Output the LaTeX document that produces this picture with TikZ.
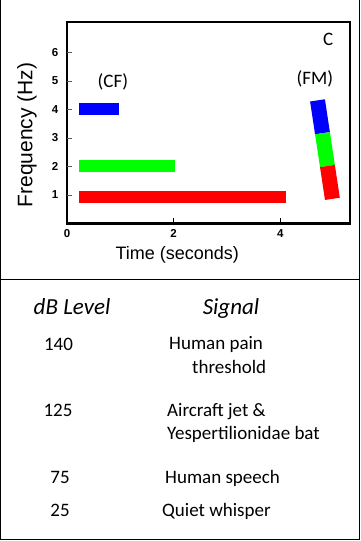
\documentclass[tikz,border=0pt]{standalone}
\usepackage{fontspec}
\setmainfont{Carlito}
\newfontfamily\axisfont{Liberation Sans}
\usepackage{xcolor}
\usepackage{tikz}
\usetikzlibrary{calc}

\begin{document}
\begin{tikzpicture}[x=1pt,y=1pt,
		ticklabel/.style={font=\axisfont\bfseries\fontsize{11.5}{13}\selectfont},
		axislabel/.style={font=\axisfont\fontsize{18}{21}\selectfont},
		plottext/.style={font=\fontsize{19}{22}\selectfont},
		tabletext/.style={font=\fontsize{19}{22}\selectfont,anchor=base west,inner sep=0pt},
		tablenum/.style={font=\fontsize{19}{22}\selectfont,anchor=base,inner sep=0pt},
		tablehead/.style={font=\itshape\fontsize{23}{26}\selectfont,anchor=base,inner sep=0pt}]
		\useasboundingbox (0,0) rectangle (360,541);
		% outer border and divider
		\draw[line width=1.2pt] (0.6,541) -- (0.6,1.2) -- (359.4,1.2) -- (359.4,541);
		\draw[line width=0.9pt] (0,262) -- (360,262);

		% plot
		\begin{scope}[shift={(67,317.5)},x=53.3pt,y=28.5pt]
		\draw[line width=2.2pt] (0,0) rectangle (5.31,7.07);
		\foreach \y in {1,2,...,6}{
		\draw[gray!70!black] (0,\y) -- (0.09,\y);
		\node[ticklabel] (ylab\y) at (-0.225,\y) {\y};}
		\foreach \x in {2,4}
		\draw (\x,0) -- (\x,0.2);
		\foreach \x in {0,2,4}
		\node[ticklabel] (xlab\x) at (\x,-0.34) {\x};
		\node[axislabel] (timelab) at (2.07,-1.1) {Time (seconds)};
		\node[axislabel,font=\axisfont\fontsize{21}{24}\selectfont,rotate=90] (freqlab) at (-0.75,3.1) {Frequency (Hz)};
		% constant frequency bars
		\fill[blue] (0.225,3.8) rectangle (0.975,4.22);
		\fill[green] (0.225,1.8) rectangle (2.03,2.22);
		\fill[red] (0.225,0.73) rectangle (4.1,1.15);
		\node[plottext] (cflab) at (0.86,4.96) {(CF)};
		\node[plottext] (fmlab) at (4.65,5.07) {(FM)};
		\node[plottext] (panel) at (4.9,6.47) {C};
		% frequency modulated sweep
		\begin{scope}[shift={(4.70,4.32)},rotate=8.6,x=1pt,y=1pt]
		\fill[blue] (-7.5,0) rectangle (7.5,-33.2);
		\fill[green] (-7.5,-33.2) rectangle (7.5,-66.4);
		\fill[red] (-7.5,-66.4) rectangle (7.5,-99.6);
		\end{scope}
		\end{scope}

		% table of levels
		\node[tablehead] (lvlhead) at (72,226) {dB Level};
		\node[tablehead] (sighead) at (231,226) {Signal};
		\node[tablenum] (lvlA) at (58.5,190.5) {140};
		\node[tabletext] (sigA) at (169,191) {Human pain};
		\node[tabletext] (sigAb) at (192,167) {threshold};
		\node[tablenum] (lvlB) at (58,124.5) {125};
		\node[tabletext] (sigB) at (167,124.5) {Aircraft jet \&};
		\node[tabletext] (sigBb) at (167,101) {Yespertilionidae bat};
		\node[tablenum] (lvlC) at (60,57.7) {75};
		\node[tabletext] (sigC) at (165,57.7) {Human speech};
		\node[tablenum] (lvlD) at (60,24.3) {25};
		\node[tabletext] (sigD) at (162,24.3) {Quiet whisper};
	\end{tikzpicture}
\end{document}
